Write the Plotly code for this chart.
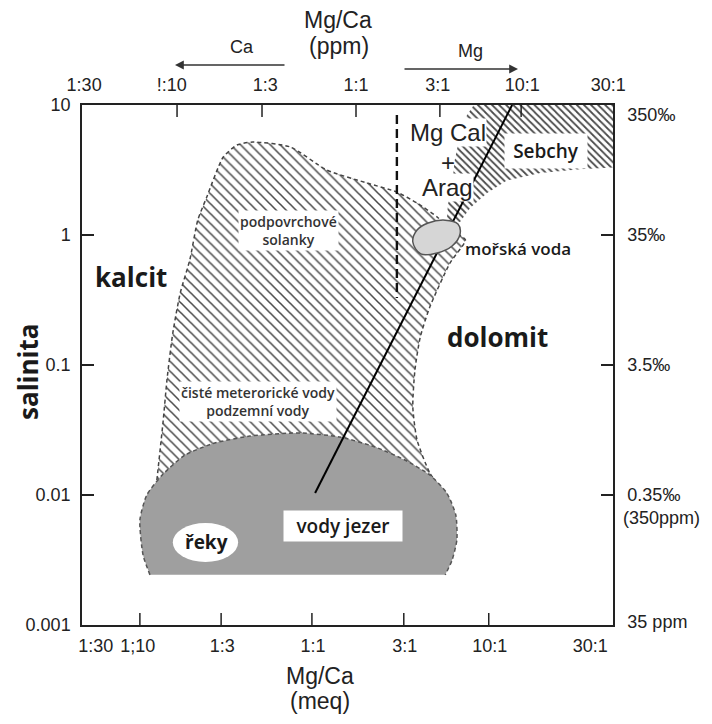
import plotly.graph_objects as go

# ---------------- data ----------------
# Bottom axis (Mg/Ca, meq) – positions on a 0..100 axis as drawn in the original
bottom_labels = ["1:30", "1;10", "1:3", "1:1", "3:1", "10:1", "30:1"]
bottom_label_pos = [2.6, 10.5, 26.4, 43.5, 60.8, 76.8, 95.7]
bottom_tick_pos = [10.9, 26.2, 43.3, 60.6, 76.6]

# Top axis (Mg/Ca, ppm)
top_labels = ["1:30", "!:10", "1:3", "1:1", "3:1", "10:1", "30:1"]
top_label_pos = [0.4, 16.9, 34.5, 51.6, 67.0, 82.9, 99.1]
top_tick_pos = [17.9, 33.9, 51.6, 67.4, 82.7]

# Salinity axes
sal_vals = [0.001, 0.01, 0.1, 1, 10]
sal_labels = ["0.001", "0.01", "0.1", "1", "10"]
right_label_vals = [0.00106, 0.01, 0.1, 1, 8.38]
right_labels = ["35 ppm", "0.35‰", "3.5‰", "35‰", "350‰"]

# Subsurface brines / meteoric & ground waters field (hatched)
brine_x = [14.1, 15.3, 16.0, 17.1, 18.5, 20.3, 21.8, 23.5, 26.6, 29.2, 32.2, 39.2, 46.1,
           53.7, 59.3, 63.1, 66.9, 69.3, 72.2, 69.3, 65.5, 63.7, 62.7, 62.3, 63.1, 65.5, 67.4]
brine_y = [0.0130, 0.0377, 0.0767, 0.176, 0.358, 0.643, 1.30, 1.96, 3.98, 4.92, 5.19, 4.76, 3.16,
           2.51, 2.14, 1.76, 1.375, 1.093, 0.920, 0.609, 0.279, 0.164, 0.0916, 0.0475, 0.0265,
           0.01476, 0.01153]

# Sabkha field (dense hatching, upper right)
sabkha_x = [73.8, 100, 100, 93.8, 86.3, 80.0, 76.3, 73.1, 71.2, 68.7, 68.9, 69.7, 70.2, 71.2, 72.5]
sabkha_y = [10, 10, 3.30, 3.20, 3.00, 2.62, 2.10, 1.61, 1.26, 1.26, 1.70, 2.42, 3.78, 5.88, 8.38]

# Lakes / rivers field (grey)
lake_x = [12.8, 11.5, 10.9, 12.2, 15.1, 19.4, 25.0, 31.6, 41.1, 48.6, 55.2, 60.8, 65.5,
          68.7, 70.4, 70.6, 69.7, 68.4]
lake_y = [0.00243, 0.00345, 0.00642, 0.0100, 0.01425, 0.0203, 0.0251, 0.0284, 0.0300, 0.0279,
          0.0234, 0.0186, 0.01425, 0.01036, 0.00702, 0.00451, 0.00316, 0.00243]

# Sea water
sea_x = [62.3, 63.1, 65.2, 68.4, 70.8, 71.2, 69.7, 66.9, 63.8, 62.3]
sea_y = [0.883, 1.093, 1.237, 1.30, 1.215, 1.018, 0.823, 0.728, 0.715, 0.883]

# Mg/Ca evolution line
trend_x = [43.9, 81.0]
trend_y = [0.01036, 10]

# Mg-calcite + aragonite limit (dashed)
limit_x = [59.3, 59.3]
limit_y = [8.38, 0.327]

# Rivers bubble (x0, x1 / y0, y1)
rivers_x = [17.1, 29.4]
rivers_y = [0.00305, 0.00610]

# ---------------- figure ----------------
AX = "Arial, Liberation Sans, sans-serif"
OS = "Open Sans, Noto Sans, sans-serif"
INK = "#222222"
W, H = 712, 724
L, R, T, B = 82, 99, 105, 99
TICKLEN = 12

fig = go.Figure()

fig.add_trace(go.Scatter(
    x=sabkha_x, y=sabkha_y, mode="lines", fill="toself",
    line=dict(width=0, color="rgba(0,0,0,0)"),
    fillpattern=dict(shape="\\", size=5, solidity=0.35, fgcolor="#4a4a4a",
                     bgcolor="white", fillmode="replace"),
    hoverinfo="skip", showlegend=False))

fig.add_trace(go.Scatter(
    x=brine_x, y=brine_y, mode="lines", fill="toself",
    line=dict(color="#444444", width=1.5, dash="4px,3px", shape="spline", smoothing=0.6),
    fillpattern=dict(shape="\\", size=7, solidity=0.22, fgcolor="#4a4a4a",
                     bgcolor="white", fillmode="replace"),
    hoverinfo="skip", showlegend=False))

fig.add_trace(go.Scatter(
    x=lake_x, y=lake_y, mode="lines", fill="toself", fillcolor="#9f9f9f",
    line=dict(color="#555555", width=1.5, dash="4px,3px", shape="spline", smoothing=0.6),
    hoverinfo="skip", showlegend=False))

fig.add_trace(go.Scatter(
    x=limit_x, y=limit_y, mode="lines",
    line=dict(color="#111111", width=2.4, dash="9px,5px"),
    hoverinfo="skip", showlegend=False))

fig.add_trace(go.Scatter(
    x=trend_x, y=trend_y, mode="lines", xaxis="x2", yaxis="y2",
    line=dict(color="#000000", width=2),
    hoverinfo="skip", showlegend=False))

fig.add_trace(go.Scatter(
    x=sea_x, y=sea_y, mode="lines", xaxis="x2", yaxis="y2", fill="toself",
    fillcolor="#d6d6d6",
    line=dict(color="#555555", width=1.5, shape="spline", smoothing=1),
    hoverinfo="skip", showlegend=False))

fig.add_shape(type="circle", xref="x", yref="y",
              x0=rivers_x[0], x1=rivers_x[1], y0=rivers_y[0], y1=rivers_y[1],
              fillcolor="white", line=dict(width=0), layer="above")

# inward tick marks on the bottom and top axes
plot_h = H - T - B
for v in bottom_tick_pos:
    fig.add_shape(type="line", xref="x", yref="paper", x0=v, x1=v, y0=0, y1=TICKLEN / plot_h,
                  line=dict(color=INK, width=1.5), layer="above")
for v in top_tick_pos:
    fig.add_shape(type="line", xref="x", yref="paper", x0=v, x1=v, y0=1 - TICKLEN / plot_h, y1=1,
                  line=dict(color=INK, width=1.5), layer="above")

common_x = dict(range=[0, 100], showgrid=False, zeroline=False, showline=True,
                linecolor=INK, linewidth=1.5, fixedrange=True, ticks="",
                tickfont=dict(family=AX, size=18, color=INK), tickmode="array")
common_y = dict(type="log", range=[-3, 1], showgrid=False, zeroline=False, showline=True,
                linecolor=INK, linewidth=1.5, fixedrange=True,
                tickfont=dict(family=AX, size=18, color=INK), tickmode="array")

fig.update_layout(
    width=W, height=H, margin=dict(l=L, r=R, t=T, b=B),
    paper_bgcolor="white", plot_bgcolor="white", showlegend=False,
    xaxis=dict(**common_x, tickvals=bottom_label_pos, ticktext=bottom_labels,
               ticklabelstandoff=4),
    xaxis2=dict(**common_x, overlaying="x", side="top", anchor="y",
                tickvals=top_label_pos, ticktext=top_labels, ticklabelstandoff=5),
    yaxis=dict(**common_y, tickvals=sal_vals, ticktext=sal_labels, ticklabelstandoff=6,
               ticks="inside", ticklen=TICKLEN, tickwidth=1.5, tickcolor=INK, mirror="ticks"),
    yaxis2=dict(**common_y, tickvals=right_label_vals, ticktext=right_labels, overlaying="y",
                side="right", anchor="x", ticks="", ticklabelstandoff=9),
)

def px_x(p):
    return (p - L) / (W - L - R)

def px_y(p):
    return (H - B - p) / (H - T - B)

ann = []
# headers
ann.append(dict(text="Mg/Ca", x=px_x(338), y=px_y(20), font=dict(family=AX, size=23, color=INK)))
ann.append(dict(text="(ppm)", x=px_x(339), y=px_y(46), font=dict(family=AX, size=23, color=INK)))
ann.append(dict(text="Ca", x=px_x(242), y=px_y(47), font=dict(family=AX, size=18, color=INK)))
ann.append(dict(text="Mg", x=px_x(470), y=px_y(51), font=dict(family=AX, size=18, color=INK)))
ann.append(dict(text="Mg/Ca", x=px_x(320), y=px_y(676), font=dict(family=AX, size=23, color=INK)))
ann.append(dict(text="(meq)", x=px_x(320), y=px_y(701), font=dict(family=AX, size=23, color=INK)))
ann.append(dict(text="(350ppm)", x=px_x(621), y=px_y(518), xanchor="left",
                font=dict(family=AX, size=18, color=INK)))
ann.append(dict(text="<b>salinita</b>", x=px_x(28), y=px_y(372), textangle=-90,
                font=dict(family=OS, size=26, color="#1a1a1a")))
for a in ann:
    a.update(xref="paper", yref="paper", showarrow=False)
    a.setdefault("xanchor", "center")
    a.setdefault("yanchor", "middle")

# arrows
arrows = [
    dict(x=px_x(175), y=px_y(65), ax=111, ay=0),
    dict(x=px_x(518), y=px_y(69), ax=-115, ay=0),
]
for a in arrows:
    a.update(xref="paper", yref="paper", text="", showarrow=True, arrowhead=2,
             arrowsize=1.1, arrowwidth=1.6, arrowcolor="#333333")
    ann.append(a)

# labels inside plot (x in axis units, y in log10 salinity)
def lab(text, x, ly, size, weight="bold", bg=None, pad=1, family=OS, color="#1a1a1a", **kw):
    d = dict(text=text, x=x, y=ly, xref="x", yref="y", showarrow=False,
             font=dict(family=family, size=size, color=color, weight=weight),
             borderpad=pad, **kw)
    if bg:
        d["bgcolor"] = bg
    return d

ann += [
    lab("kalcit", 9.2, -0.323, 26),
    lab("dolomit", 78.3, -0.785, 26),
    lab("podpovrchové<br>solanky", 38.8, 0.031, 14, weight=600, bg="white", color="#333333"),
    lab("čisté meterorické vody<br>podzemní vody", 33.1, -1.277, 14, weight=600, bg="white",
        color="#333333"),
    lab("mořská voda", 82.1, -0.10, 17, weight=600),
    lab("Sebchy", 87.4, 0.646, 19, weight=600, bg="white", pad=5, width=72, height=24),
    lab("vody jezer", 49.2, -2.238, 19, weight=600, bg="white", pad=3, width=112, height=24),
    lab("řeky", 23.4, -2.362, 19, weight="bold"),
    lab("Mg Cal", 68.9, 0.785, 24, weight="normal", family=AX, color=INK, bg="white", pad=0),
    lab("+", 68.9, 0.554, 24, weight="normal", family=AX, color=INK),
    lab("Arag", 68.9, 0.369, 24, weight="normal", family=AX, color=INK, bg="white", pad=0),
]

fig.update_layout(annotations=ann)

fig.write_html("out.html")
